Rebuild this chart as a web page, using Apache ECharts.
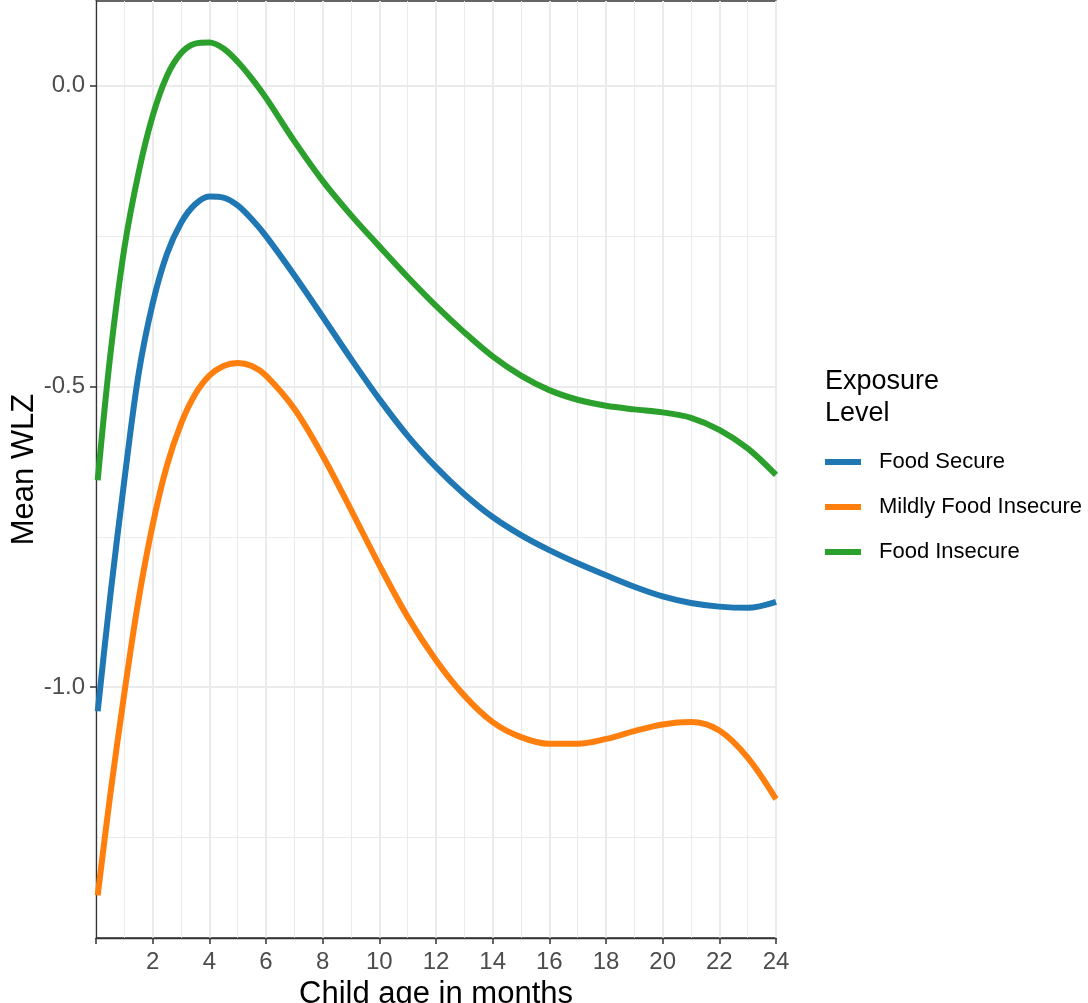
<!DOCTYPE html>
<html>
<head>
<meta charset="utf-8">
<script src="https://cdn.jsdelivr.net/npm/echarts@6/dist/echarts.min.js"></script>
<style>
  html, body { margin: 0; padding: 0; background: #ffffff; }
  #chart { width: 1088px; height: 1003px; }
</style>
</head>
<body>
<div id="chart"></div>
<script>
// age in months (x) and smoothed mean WLZ per exposure group
const ages = [0.06, 0.5, 1, 1.5, 2, 2.5, 3, 3.5, 4, 4.5, 5, 5.5, 6, 7, 8, 9, 10, 11, 12, 13, 14, 15, 16, 17, 18, 19, 20, 21, 22, 23, 24]
const foodSecure = [-1.04, -0.85, -0.656, -0.48, -0.362, -0.28, -0.228, -0.197, -0.184, -0.186, -0.199, -0.222, -0.25, -0.315, -0.384, -0.454, -0.521, -0.582, -0.634, -0.679, -0.717, -0.747, -0.772, -0.794, -0.814, -0.833, -0.849, -0.86, -0.866, -0.868, -0.858]
const mildlyInsecure = [-1.346, -1.18, -1.01, -0.855, -0.73, -0.632, -0.562, -0.513, -0.482, -0.466, -0.461, -0.466, -0.482, -0.537, -0.615, -0.705, -0.797, -0.883, -0.955, -1.014, -1.058, -1.083, -1.094, -1.094, -1.086, -1.073, -1.062, -1.058, -1.072, -1.117, -1.186]
const foodInsecure = [-0.656, -0.45, -0.27, -0.145, -0.05, 0.016, 0.054, 0.07, 0.072, 0.062, 0.04, 0.012, -0.02, -0.092, -0.158, -0.215, -0.267, -0.318, -0.366, -0.41, -0.45, -0.482, -0.506, -0.522, -0.532, -0.538, -0.543, -0.552, -0.572, -0.603, -0.647]

const groupNames = ['Food Secure', 'Mildly Food Insecure', 'Food Insecure']
const groupColors = ['#1f77b4', '#ff7f0e', '#2ca02c']
const yMajorTicks = [-1.0, -0.5, 0.0]
const yMinorTicks = [-1.25, -0.75, -0.25]

const font = 'Liberation Sans, Arial, sans-serif'
const toPairs = vals => ages.map((a, i) => [a, vals[i]])

const chart = echarts.init(document.getElementById('chart'))

const makeLine = (name, vals, color) => ({
  name,
  type: 'line',
  data: toPairs(vals),
  smooth: 0.33,
  showSymbol: false,
  lineStyle: { width: 6, color },
  itemStyle: { color },
  z: 5
})

const option = {
  animation: false,
  backgroundColor: '#ffffff',
  textStyle: { fontFamily: font },
  title: [
    {
      text: 'Exposure\nLevel',
      left: 820,
      top: 361,
      textStyle: { fontFamily: font, fontSize: 27, fontWeight: 'normal', color: '#000', lineHeight: 32 }
    }
  ],
  legend: {
    orient: 'vertical',
    left: 825,
    top: 451,
    padding: 0,
    icon: 'rect',
    itemWidth: 36,
    itemHeight: 6,
    itemGap: 23,
    data: groupNames,
    textStyle: { fontFamily: font, fontSize: 22, color: '#000', lineHeight: 22, padding: [0, 0, 0, 13] }
  },
  grid: {
    left: 96,
    right: 312,
    top: 1,
    bottom: 65,
    show: true,
    borderColor: '#333333',
    borderWidth: 1.3,
    outerBoundsMode: 'none'
  },
  xAxis: {
    type: 'value',
    min: 0,
    max: 24,
    interval: 2,
    name: 'Child age in months',
    nameLocation: 'middle',
    nameGap: 37,
    nameTextStyle: { fontFamily: font, fontSize: 31, color: '#000' },
    axisLine: { show: true, onZero: false, lineStyle: { color: '#333333', width: 1.3 } },
    axisTick: { show: true, length: 6, lineStyle: { color: '#333333', width: 1.5 } },
    axisLabel: {
      margin: 12,
      fontSize: 24,
      color: '#4d4d4d',
      fontFamily: font,
      showMaxLabel: true,
      formatter: v => (v === 0 ? '' : String(v))
    },
    splitLine: { show: true, lineStyle: { color: '#ebebeb', width: 2 } },
    minorTick: { show: false, splitNumber: 2 },
    minorSplitLine: { show: true, lineStyle: { color: '#ebebeb', width: 1 } }
  },
  yAxis: [
    {
      type: 'value',
      min: -1.417,
      max: 0.141,
      name: 'Mean WLZ',
      nameLocation: 'middle',
      nameGap: 56,
      nameMoveOverlap: false,
      nameTextStyle: { fontFamily: font, fontSize: 31, color: '#000' },
      axisLine: { show: true, onZero: false, lineStyle: { color: '#333333', width: 1.3 } },
      axisTick: { show: true, length: 6, customValues: yMajorTicks, lineStyle: { color: '#333333', width: 1.5 } },
      axisLabel: {
        margin: 11,
        fontSize: 24,
        color: '#4d4d4d',
        fontFamily: font,
        customValues: yMajorTicks,
        formatter: v => v.toFixed(1)
      },
      splitLine: { show: true, lineStyle: { color: '#ebebeb', width: 2 } }
    },
    {
      type: 'value',
      min: -1.417,
      max: 0.141,
      position: 'left',
      axisLine: { show: false },
      axisTick: { show: false, customValues: yMinorTicks },
      axisLabel: { show: false, customValues: yMinorTicks },
      splitLine: { show: true, lineStyle: { color: '#ebebeb', width: 1 } }
    }
  ],
  series: [
    makeLine(groupNames[0], foodSecure, groupColors[0]),
    makeLine(groupNames[1], mildlyInsecure, groupColors[1]),
    makeLine(groupNames[2], foodInsecure, groupColors[2])
  ]
}

chart.setOption(option)
</script>
</body>
</html>
